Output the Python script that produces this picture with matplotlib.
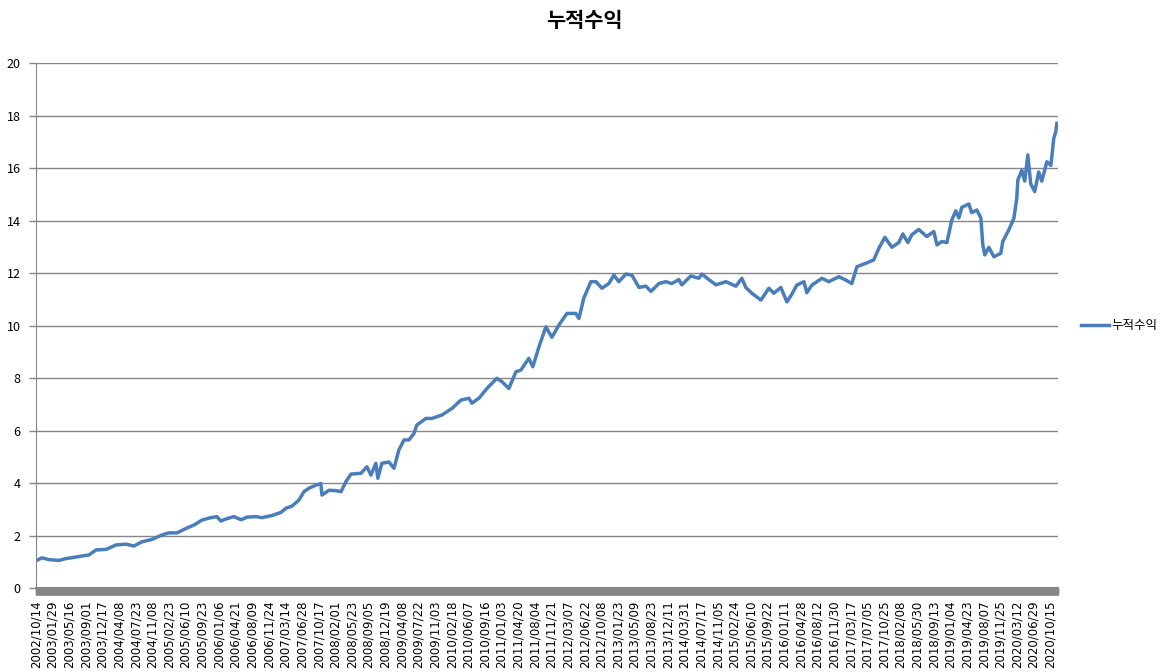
import numpy as np
import matplotlib.pyplot as plt
from matplotlib.ticker import MultipleLocator

plt.rcParams['font.family'] = ['Noto Sans CJK KR', 'DejaVu Sans']

# 거래일 순번과 누적수익 값
day = [0, 27, 59, 104, 135, 194, 239, 271, 316, 361, 406, 442, 478, 523, 568,
       600, 636, 677, 713, 749, 789, 816, 834, 857, 893, 925, 952, 992, 1019,
       1064, 1105, 1128, 1155, 1186, 1209, 1231, 1263, 1285, 1290, 1321, 1353,
       1376, 1398, 1421, 1466, 1493, 1511, 1533, 1542, 1560, 1592, 1615, 1637,
       1660, 1682, 1705, 1718, 1759, 1786, 1831, 1876, 1917, 1953, 1966, 1998,
       2034, 2079, 2102, 2133, 2165, 2187, 2223, 2241, 2269, 2300, 2327, 2359,
       2395, 2435, 2449, 2471, 2503, 2526, 2553, 2584, 2607, 2629, 2661, 2688,
       2720, 2751, 2774, 2810, 2841, 2868, 2900, 2913, 2954, 2990, 3004, 3035,
       3067, 3112, 3157, 3184, 3202, 3229, 3270, 3306, 3328, 3360, 3387, 3410,
       3432, 3464, 3477, 3500, 3545, 3576, 3622, 3653, 3680, 3703, 3743, 3779,
       3802, 3829, 3861, 3892, 3910, 3933, 3951, 3982, 4018, 4050, 4064, 4086,
       4109, 4131, 4149, 4163, 4176, 4208, 4221, 4244, 4262, 4271, 4280, 4298,
       4321, 4352, 4361, 4388, 4411, 4424, 4429, 4447, 4460, 4474, 4487, 4505,
       4523, 4537, 4560, 4578, 4591, 4600, 4605]
value = [1.04, 1.15, 1.08, 1.05, 1.12, 1.20, 1.26, 1.45, 1.47, 1.64, 1.67, 1.60,
         1.76, 1.85, 2.02, 2.10, 2.10, 2.27, 2.40, 2.59, 2.68, 2.72, 2.55, 2.63,
         2.72, 2.60, 2.70, 2.72, 2.68, 2.76, 2.88, 3.04, 3.12, 3.35, 3.67, 3.80,
         3.92, 3.98, 3.54, 3.72, 3.71, 3.67, 4.05, 4.34, 4.37, 4.62, 4.30, 4.75,
         4.18, 4.75, 4.80, 4.56, 5.26, 5.64, 5.64, 5.89, 6.21, 6.46, 6.46, 6.59,
         6.84, 7.16, 7.23, 7.04, 7.23, 7.60, 7.99, 7.86, 7.60, 8.24, 8.30, 8.75,
         8.43, 9.19, 9.95, 9.55, 10.02, 10.46, 10.46, 10.27, 11.04, 11.67, 11.67,
         11.42, 11.60, 11.92, 11.67, 11.96, 11.92, 11.45, 11.50, 11.30, 11.60,
         11.67, 11.60, 11.75, 11.55, 11.89, 11.80, 11.96, 11.75, 11.55, 11.67,
         11.50, 11.80, 11.45, 11.23, 10.97, 11.42, 11.23, 11.45, 10.90, 11.20,
         11.54, 11.67, 11.25, 11.54, 11.80, 11.67, 11.86, 11.73, 11.60, 12.24,
         12.37, 12.50, 12.94, 13.36, 12.98, 13.16, 13.49, 13.16, 13.46, 13.66,
         13.39, 13.58, 13.07, 13.20, 13.16, 14.02, 14.37, 14.10, 14.50, 14.63,
         14.30, 14.40, 14.10, 13.07, 12.69, 12.98, 12.62, 12.75, 13.20, 13.64,
         14.08, 14.84, 15.54, 15.92, 15.50, 16.50, 15.40, 15.10, 15.85, 15.50,
         16.24, 16.10, 17.13, 17.38, 17.70]

n_days = 4610
label_step = 75
date_labels = ['2002/10/14', '2003/01/29', '2003/05/16', '2003/09/01', '2003/12/17',
               '2004/04/08', '2004/07/23', '2004/11/08', '2005/02/23', '2005/06/10',
               '2005/09/23', '2006/01/06', '2006/04/21', '2006/08/09', '2006/11/24',
               '2007/03/14', '2007/06/28', '2007/10/17', '2008/02/01', '2008/05/23',
               '2008/09/05', '2008/12/19', '2009/04/08', '2009/07/22', '2009/11/03',
               '2010/02/18', '2010/06/07', '2010/09/16', '2011/01/03', '2011/04/20',
               '2011/08/04', '2011/11/21', '2012/03/07', '2012/06/22', '2012/10/08',
               '2013/01/23', '2013/05/09', '2013/08/23', '2013/12/11', '2014/03/31',
               '2014/07/17', '2014/11/05', '2015/02/24', '2015/06/10', '2015/09/22',
               '2016/01/11', '2016/04/28', '2016/08/12', '2016/11/30', '2017/03/17',
               '2017/07/05', '2017/10/25', '2018/02/08', '2018/05/30', '2018/09/13',
               '2019/01/04', '2019/04/23', '2019/08/07', '2019/11/25', '2020/03/12',
               '2020/06/29', '2020/10/15']

fig = plt.figure(figsize=(11.68, 6.72), dpi=100)
ax = fig.add_axes([0.0308, 0.125, 0.875, 0.7812])

ax.plot(day, value, color='#4a7ebb', lw=2.5, label='누적수익', solid_joinstyle='round')

ax.set_xlim(0, n_days)
ax.set_ylim(0, 20)
ax.set_yticks(range(0, 21, 2))
ax.yaxis.grid(True, color='#868686', lw=1)
ax.set_axisbelow(True)

ax.set_xticks(np.arange(len(date_labels)) * label_step)
ax.set_xticklabels(date_labels, rotation=90, fontsize=8.5, family=['DejaVu Sans'])
ax.xaxis.set_minor_locator(MultipleLocator(2))
ax.tick_params(axis='x', which='both', length=5, width=1, color='#868686', pad=4)
ax.tick_params(axis='y', length=5, width=1, color='#868686', labelsize=9, pad=6)

for s in ['top', 'right']:
    ax.spines[s].set_visible(False)
ax.spines['left'].set_color('#868686')
ax.spines['bottom'].set_color('#868686')
ax.spines['bottom'].set_linewidth(1.5)

fig.suptitle('누적수익', x=0.5, y=0.985, fontsize=15, fontweight='bold')
ax.legend(loc='center left', bbox_to_anchor=(1.012, 0.5), frameon=False,
          fontsize=9, handlelength=2.2, handletextpad=0.2)

fig.savefig('out.png', dpi=100)
